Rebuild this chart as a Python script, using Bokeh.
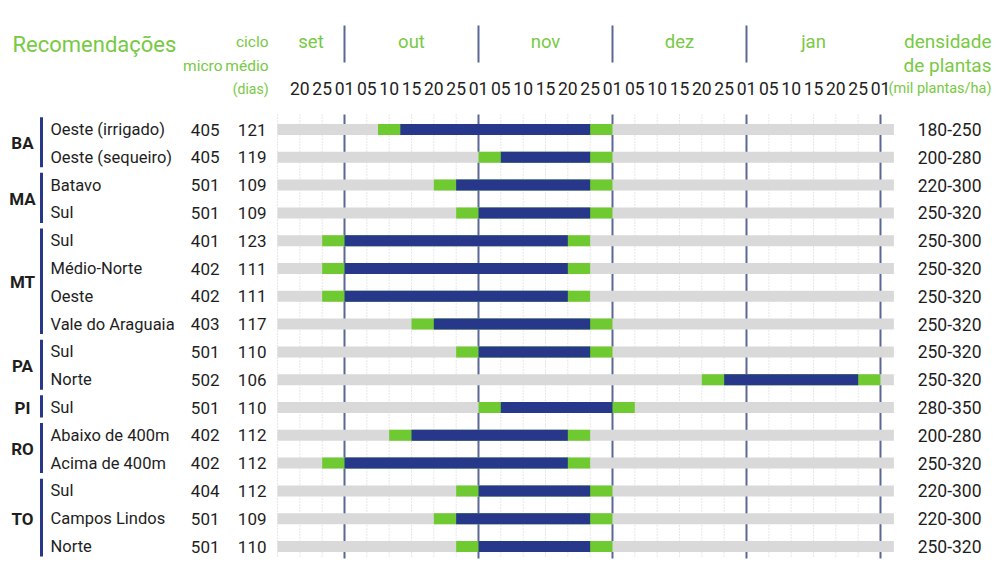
from bokeh.plotting import figure
from bokeh.models import Range1d, ColumnDataSource
from bokeh.core.properties import value
from bokeh.embed import file_html
from bokeh.resources import INLINE

# ---------------- data ----------------
states = ["BA", "BA", "MA", "MA", "MT", "MT", "MT", "MT", "PA", "PA", "PI",
          "RO", "RO", "TO", "TO", "TO"]
regions = ["Oeste (irrigado)", "Oeste (sequeiro)", "Batavo", "Sul", "Sul",
           "Médio-Norte", "Oeste", "Vale do Araguaia", "Sul", "Norte", "Sul",
           "Abaixo de 400m", "Acima de 400m", "Sul", "Campos Lindos", "Norte"]
micro = [405, 405, 501, 501, 401, 402, 402, 403, 501, 502, 501, 402, 402, 404, 501, 501]
ciclo = [121, 119, 109, 109, 123, 111, 111, 117, 110, 106, 110, 112, 112, 112, 109, 110]
densidade = ["180-250", "200-280", "220-300", "250-320", "250-300", "250-320",
             "250-320", "250-320", "250-320", "250-320", "280-350", "200-280",
             "250-320", "220-300", "220-300", "250-320"]

# sowing windows in 5-day periods (0 = 01 out, 6 = 01 nov, 12 = 01 dez, 18 = 01 jan)
janela_inicio = [1.5, 6, 4, 5, -1, -1, -1, 3, 5, 16, 6, 2, -1, 5, 4, 5]
ideal_inicio = [2.5, 7, 5, 6, 0, 0, 0, 4, 6, 17, 7, 3, 0, 6, 5, 6]
ideal_fim = [11, 11, 11, 11, 10, 10, 10, 11, 11, 23, 12, 10, 10, 11, 11, 11]
janela_fim = [12, 12, 12, 12, 11, 11, 11, 12, 12, 24, 13, 11, 11, 12, 12, 12]
fundo_inicio, fundo_fim = -3, 24.6

tick_labels = ["20", "25",
               "01", "05", "10", "15", "20", "25",
               "01", "05", "10", "15", "20", "25",
               "01", "05", "10", "15", "20", "25",
               "01", "05", "10", "15", "20", "25",
               "01"]
tick_pos = list(range(-2, 25))
meses = ["set", "out", "nov", "dez", "jan"]
mes_inicio = [-3, 0, 6, 12, 18]
mes_fim = [0, 6, 12, 18, 24]

# ---------------- layout helpers ----------------
W, H = 1000, 584
X0, DX = 344.0, 22.333
Y0, DY = 129.0, 27.8


def sx(px):
    return (px - X0) / DX


def sy(py):
    return (py - Y0) / DY


GREEN = "#6fca32"
NAVY = "#27388a"
GRAY = "#d9d9d9"
LINE = "#5b6795"
TXT_GREEN = "#78c944"
TXT = "#1e1e1e"
FONT = value("Roboto")

p = figure(width=W, height=H, x_range=Range1d(sx(0), sx(W)),
           y_range=Range1d(sy(H), sy(0)), output_backend="svg",
           toolbar_location=None, x_axis_location=None, y_axis_location=None,
           min_border=0)
p.grid.visible = False
p.outline_line_color = None
p.background_fill_color = "white"
p.border_fill_color = "white"

n = len(regions)
rows = list(range(n))

# grid lines
dots = [s for s in range(-3, 25) if s % 6 != 0]
p.segment(x0=dots, x1=dots, y0=[sy(114)] * len(dots), y1=[sy(558)] * len(dots),
          line_color="#cfcfcf", line_width=1, line_dash="1 2")
mlines = [s for s in range(-3, 25) if s % 6 == 0]
p.segment(x0=mlines, x1=mlines, y0=[sy(114)] * len(mlines), y1=[sy(558)] * len(mlines),
          line_color=LINE, line_width=2)
hlines = mes_fim[:-1]
p.segment(x0=hlines, x1=hlines, y0=[sy(25)] * len(hlines), y1=[sy(62)] * len(hlines),
          line_color=LINE, line_width=2)

# bars
bh = 11.0 / DY
src = ColumnDataSource(dict(y=rows, fl=[fundo_inicio] * n, fr=[fundo_fim] * n,
                            jl=janela_inicio, jr=janela_fim,
                            il=ideal_inicio, ir=ideal_fim))
p.hbar(y="y", left="fl", right="fr", height=bh, source=src, fill_color=GRAY, line_color=None)
p.hbar(y="y", left="jl", right="jr", height=bh, source=src, fill_color=GREEN, line_color=None)
p.hbar(y="y", left="il", right="ir", height=bh, source=src, fill_color=NAVY, line_color=None)

# group brackets and state labels
grupos = []
for i, s in enumerate(states):
    if not grupos or grupos[-1][0] != s:
        grupos.append([s, i, i])
    else:
        grupos[-1][2] = i
gx = [sx(41)] * len(grupos)
p.segment(x0=gx, x1=gx, y0=[g[1] - 0.44 for g in grupos], y1=[g[2] + 0.36 for g in grupos],
          line_color=NAVY, line_width=3)
p.text(x=[sx(22)] * len(grupos), y=[(g[1] + g[2]) / 2 for g in grupos],
       text=[g[0] for g in grupos], text_font=FONT, text_font_style="bold",
       text_font_size="17px", text_color=TXT, text_align="center", text_baseline="middle")

# row texts
BODY = "16.5px"
p.text(x=[sx(50)] * n, y=rows, text=regions, text_font=FONT, text_font_size=BODY,
       text_color=TXT, text_align="left", text_baseline="middle")
p.text(x=[sx(219)] * n, y=rows, text=[str(v) for v in micro], text_font=FONT,
       text_font_size="17px", text_color=TXT, text_align="right", text_baseline="middle")
p.text(x=[sx(266)] * n, y=rows, text=[str(v) for v in ciclo], text_font=FONT,
       text_font_size="17px", text_color=TXT, text_align="right", text_baseline="middle")
p.text(x=[sx(981)] * n, y=rows, text=densidade, text_font=FONT, text_font_size="17.5px",
       text_color=TXT, text_align="right", text_baseline="middle")

# header
p.text(x=[sx(12)], y=[sy(44)], text=["Recomendações"], text_font=FONT,
       text_font_size="22px", text_color=TXT_GREEN, text_align="left", text_baseline="middle")
p.text(x=[sx(268), sx(222), sx(268)], y=[sy(41), sy(65), sy(65)],
       text=["ciclo", "micro", "médio"], text_font=FONT, text_font_size="15.5px",
       text_color=TXT_GREEN, text_align="right", text_baseline="middle")
p.text(x=[sx(268)], y=[sy(88)], text=["(dias)"], text_font=FONT, text_font_size="14px",
       text_color=TXT_GREEN, text_align="right", text_baseline="middle")
p.text(x=[sx(991), sx(991)], y=[sy(41), sy(65)], text=["densidade", "de plantas"],
       text_font=FONT, text_font_size="19px", text_color=TXT_GREEN,
       text_align="right", text_baseline="middle")
p.text(x=[sx(991)], y=[sy(88)], text=["(mil plantas/ha)"], text_font=FONT,
       text_font_size="14.5px", text_color=TXT_GREEN, text_align="right", text_baseline="middle")
p.text(x=[(a + b) / 2 for a, b in zip(mes_inicio, mes_fim)], y=[sy(41)] * len(meses),
       text=meses, text_font=FONT, text_font_size="18.5px", text_color=TXT_GREEN,
       text_align="center", text_baseline="middle")
p.text(x=tick_pos, y=[sy(88)] * len(tick_pos), text=tick_labels, text_font=FONT,
       text_font_size="17.5px", text_color=TXT, text_align="center", text_baseline="middle")

open("out.html", "w").write(file_html(p, INLINE))
